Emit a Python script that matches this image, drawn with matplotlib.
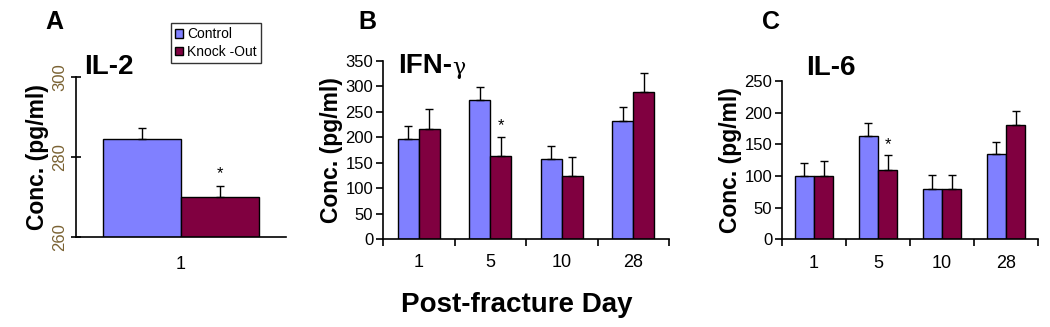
import numpy as np
import matplotlib.pyplot as plt

plt.rcParams['font.family'] = ['Liberation Sans', 'DejaVu Sans']

ctrl_color = '#8080ff'
ko_color = '#800040'

# panel A: IL-2, day 1 only
il2_ctrl = [284.5]
il2_ctrl_err = [2.8]
il2_ko = [270.0]
il2_ko_err = [2.8]

days = ['1', '5', '10', '28']

# panel B: IFN-gamma
ifn_ctrl = [197, 273, 157, 233]
ifn_ctrl_err = [25, 25, 26, 26]
ifn_ko = [217, 164, 124, 290]
ifn_ko_err = [39, 36, 38, 37]

# panel C: IL-6
il6_ctrl = [100, 163, 80, 135]
il6_ctrl_err = [21, 20, 21, 18]
il6_ko = [100, 110, 80, 181]
il6_ko_err = [23, 23, 21, 21]

fig = plt.figure(figsize=(10.5, 3.27), dpi=100)

axA = fig.add_axes([0.0724, 0.2752, 0.2, 0.489])
axB = fig.add_axes([0.3648, 0.2691, 0.2724, 0.5443])
axC = fig.add_axes([0.7448, 0.2682, 0.2438, 0.4841])

ekw = dict(ecolor='black', capsize=3, elinewidth=1.0, capthick=1.0)
ylab_kw = dict(fontsize=16.5, fontweight='bold', labelpad=2)

# ---- A ----
w = 0.37
axA.bar([-w / 2], il2_ctrl, w, color=ctrl_color, edgecolor='black', linewidth=1.0,
        label='Control')
axA.bar([w / 2], il2_ko, w, color=ko_color, edgecolor='black', linewidth=1.0,
        label='Knock -Out')
axA.errorbar([-w / 2], il2_ctrl, yerr=[[0], il2_ctrl_err], fmt='none', **ekw)
axA.errorbar([w / 2], il2_ko, yerr=[[0], il2_ko_err], fmt='none', **ekw)
axA.text(w / 2, il2_ko[0] + il2_ko_err[0] + 1.2, '*', ha='center', va='bottom', fontsize=12)
axA.set_ylim(260, 300)
axA.set_xlim(-0.5, 0.5)
axA.set_yticks([260, 280, 300])
axA.set_yticklabels(['260', '280', '300'], rotation=90, va='center', color='#7a6232', fontsize=12)
axA.set_xticks([0])
axA.set_xticklabels(['1'], fontsize=13)
axA.tick_params(axis='x', length=0, pad=14)
axA.tick_params(axis='y', direction='inout', length=7, width=1.2, pad=3)
axA.set_ylabel('Conc. (pg/ml)', **ylab_kw)
axA.text(0.04, 1.145, 'IL-2', transform=axA.transAxes, fontsize=20, fontweight='bold',
         ha='left', va='top')
leg = axA.legend(loc='lower left', bbox_to_anchor=(0.452, 1.0875), fontsize=10, frameon=True,
                 fancybox=False, edgecolor='black', handlelength=0.6, handleheight=0.6,
                 handletextpad=0.25, borderpad=0.3, labelspacing=0.25, borderaxespad=0)
leg.get_frame().set_linewidth(1.0)


def grouped(ax, ctrl, ctrl_err, ko, ko_err, star_idx, star_off, bw):
    x = np.arange(len(days)) + 0.5
    ax.bar(x - bw / 2, ctrl, bw, color=ctrl_color, edgecolor='black', linewidth=1.0)
    ax.bar(x + bw / 2, ko, bw, color=ko_color, edgecolor='black', linewidth=1.0)
    ax.errorbar(x - bw / 2, ctrl, yerr=[np.zeros(len(ctrl)), ctrl_err], fmt='none', **ekw)
    ax.errorbar(x + bw / 2, ko, yerr=[np.zeros(len(ko)), ko_err], fmt='none', **ekw)
    ax.text(x[star_idx] + bw / 2, ko[star_idx] + ko_err[star_idx] + star_off, '*',
            ha='center', va='bottom', fontsize=12)
    ax.set_xlim(0, len(days))
    ax.set_xticks(np.arange(len(days) + 1))
    ax.set_xticklabels([])
    ax.set_xticks(x, minor=True)
    ax.set_xticklabels(days, minor=True, fontsize=13)
    ax.tick_params(axis='x', which='major', direction='out', length=5, width=1.2)
    ax.tick_params(axis='x', which='minor', length=0, pad=11)
    ax.tick_params(axis='y', direction='out', length=5, width=1.2, labelsize=12, pad=2)


# ---- B ----
grouped(axB, ifn_ctrl, ifn_ctrl_err, ifn_ko, ifn_ko_err, 1, 8, 0.294)
axB.set_ylim(0, 350)
axB.set_yticks(np.arange(0, 351, 50))
axB.set_ylabel('Conc. (pg/ml)', **ylab_kw)
t = axB.text(0.052, 1.045, 'IFN-', transform=axB.transAxes, fontsize=20, fontweight='bold',
             ha='left', va='top')
axB.annotate('\u03b3', xy=(1.0, 0.0), xycoords=t, fontsize=16, family='DejaVu Serif',
             ha='left', va='bottom')

# ---- C ----
grouped(axC, il6_ctrl, il6_ctrl_err, il6_ko, il6_ko_err, 1, 4, 0.3)
axC.set_ylim(0, 250)
axC.set_yticks(np.arange(0, 251, 50))
axC.set_ylabel('Conc. (pg/ml)', **ylab_kw)
axC.text(0.095, 1.165, 'IL-6', transform=axC.transAxes, fontsize=20, fontweight='bold',
         ha='left', va='top')

for ax in (axA, axB, axC):
    ax.spines['top'].set_visible(False)
    ax.spines['right'].set_visible(False)
    ax.spines['left'].set_linewidth(1.2)
    ax.spines['bottom'].set_linewidth(1.2)

fig.text(0.0514, 0.934, 'A', fontsize=18, fontweight='bold', ha='center', va='center')
fig.text(0.350, 0.934, 'B', fontsize=18, fontweight='bold', ha='center', va='center')
fig.text(0.7343, 0.934, 'C', fontsize=18, fontweight='bold', ha='center', va='center')
fig.text(0.4924, 0.066, 'Post-fracture Day', fontsize=20, fontweight='bold',
         ha='center', va='center')

fig.savefig('out.png', dpi=100)
